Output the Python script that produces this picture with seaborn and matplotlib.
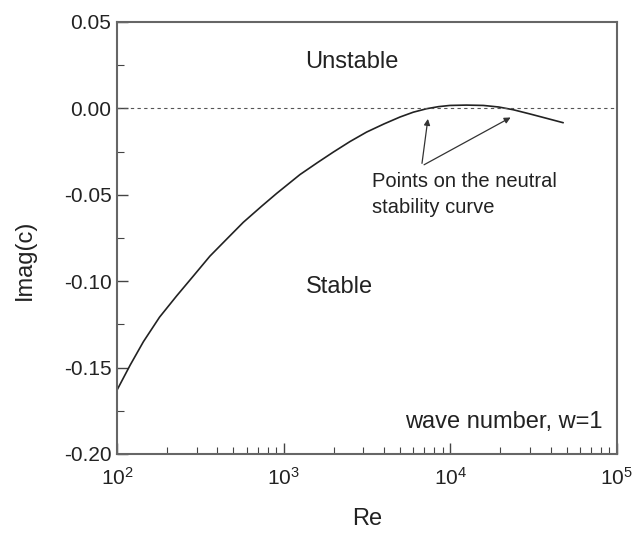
import matplotlib
matplotlib.use("Agg")
import matplotlib.pyplot as plt
import seaborn as sns
import pandas as pd
from matplotlib.ticker import LogLocator, MultipleLocator, FixedLocator, NullFormatter

sns.set_theme(style="white")
plt.rcParams['font.family'] = ['Liberation Sans', 'DejaVu Sans']
plt.rcParams['mathtext.fontset'] = 'custom'
plt.rcParams['mathtext.rm'] = 'Liberation Sans'

re_vals = [100, 120, 144, 180, 228, 290, 361, 460, 573, 740, 908, 1253, 1600, 1986, 2500, 3148, 4000,
           4990, 6000, 7210, 8500, 9950, 12500, 15800, 19500, 23900, 30000, 38000, 47600]
imag_vals = [-0.1630, -0.1485, -0.1350, -0.1208, -0.1085, -0.0965, -0.0855, -0.0752, -0.0659, -0.0565,
             -0.0492, -0.0383, -0.0313, -0.0253, -0.0192, -0.0137, -0.0090,
             -0.0050, -0.0022, -0.0002, 0.0010, 0.0017, 0.0019, 0.0017, 0.0008, -0.0008, -0.0032, -0.0058, -0.0083]

df = pd.DataFrame({"Re": re_vals, "Imag": imag_vals})

fig = plt.figure(figsize=(6.36, 5.36), dpi=100)
ax = fig.add_axes([0.184, 0.153, 0.786, 0.806])

sns.lineplot(data=df, x="Re", y="Imag", ax=ax, color="#222222", linewidth=1.2)
ax.axhline(0, color="#555555", linestyle=(0, (3, 3)), linewidth=0.8)

ax.set_xscale("log")
ax.set_xlim(1e2, 1e5)
ax.set_ylim(-0.20, 0.05)
ax.yaxis.set_minor_locator(MultipleLocator(0.025))
ax.set_yticks([-0.20, -0.15, -0.10, -0.05, 0.00, 0.05])
ax.set_yticklabels(["-0.20", "-0.15", "-0.10", "-0.05", "0.00", "0.05"])
ax.xaxis.set_major_locator(FixedLocator([1e2, 1e3, 1e4, 1e5]))
ax.xaxis.set_minor_locator(LogLocator(base=10, subs=range(2, 10)))
ax.xaxis.set_minor_formatter(NullFormatter())

ax.tick_params(which="both", direction="in", bottom=True, left=True, top=False, right=False,
               colors="#444444", labelcolor="#222222", labelsize=15)
ax.tick_params(which="major", length=8, width=1)
ax.tick_params(which="minor", length=5, width=0.8)
ax.tick_params(axis="x", which="major", pad=9)
ax.tick_params(axis="y", which="major", pad=4)
for s in ax.spines.values():
    s.set_color("#666666")
    s.set_linewidth(1.5)
    s.set_visible(True)

ax.set_xlabel("Re", fontsize=17, color="#222222", labelpad=14)
ax.set_ylabel("Imag(c)", fontsize=17, color="#222222")
ax.yaxis.set_label_coords(-0.162, 0.449)

ax.text(0.47, 0.907, "Unstable", transform=ax.transAxes, fontsize=17, ha="center", va="center", color="#222222")
ax.text(0.444, 0.387, "Stable", transform=ax.transAxes, fontsize=17, ha="center", va="center", color="#222222")
ax.text(0.972, 0.074, "wave number, w=1", transform=ax.transAxes, fontsize=17, ha="right", va="center", color="#222222")

ax.text(3375, -0.037, "Points on the neutral\nstability curve", fontsize=14.5, ha="left", va="top",
        color="#222222", linespacing=1.45)
for head in [(7375, -0.0045), (23800, -0.0045)]:
    ax.annotate("", xy=head, xytext=(6730, -0.0334),
                arrowprops=dict(arrowstyle="-|>", color="#333333", lw=0.9, mutation_scale=9))

fig.savefig("out.png", dpi=100)
